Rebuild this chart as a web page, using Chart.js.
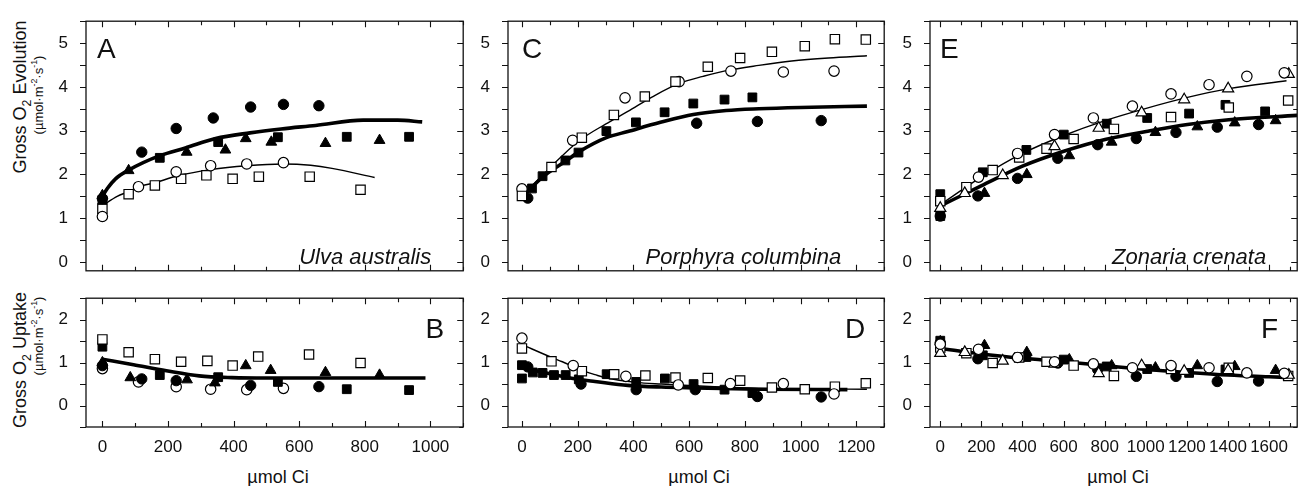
<!doctype html>
<html lang="en">
<head>
<meta charset="utf-8">
<title>Gross O2 evolution and uptake vs Ci</title>
<style>
  * { margin: 0; padding: 0; }
  body {
    width: 1305px;
    height: 486px;
    position: relative;
    overflow: hidden;
    background: #fff;
    color: #111;
    font-family: "Liberation Sans", Arial, Helvetica, sans-serif;
  }
  canvas { position: absolute; }
  .ytitle {
    position: absolute;
    transform: translate(-50%, -50%) rotate(-90deg);
    white-space: nowrap;
    font-size: 18px;
    line-height: 1;
  }
  .yunit { font-size: 13px; }
  .xtitle {
    position: absolute;
    transform: translate(-50%, -50%);
    white-space: nowrap;
    font-size: 18px;
  }
  sub, sup { font-size: 68%; line-height: 0; }
</style>
</head>
<body>

<div class="ytitle" style="left:20px; top:97px;">Gross O<sub>2</sub> Evolution</div>
<div class="ytitle yunit" style="left:38px; top:95px;">(&micro;mol&middot;m<sup>-2</sup>&middot;s<sup>-1</sup>)</div>
<div class="ytitle" style="left:20px; top:360px;">Gross O<sub>2</sub> Uptake</div>
<div class="ytitle yunit" style="left:38px; top:336px;">(&micro;mol&middot;m<sup>-2</sup>&middot;s<sup>-1</sup>)</div>

<div class="xtitle" style="left:278px; top:477px;">&micro;mol Ci</div>
<div class="xtitle" style="left:699px; top:477px;">&micro;mol Ci</div>
<div class="xtitle" style="left:1118px; top:477px;">&micro;mol Ci</div>

<script src="https://cdn.jsdelivr.net/npm/chart.js/dist/chart.umd.min.js"></script>
<script>

// ---------- data: [µmol Ci, rate] ----------

// A - Ulva australis, gross O2 evolution
const ulvaEvoFilledCircle   = [[0,1.45],[120,2.51],[225,3.05],[338,3.29],[452,3.54],[552,3.60],[660,3.57]];
const ulvaEvoFilledSquare   = [[0,1.42],[175,2.38],[353,2.74],[535,2.85],[745,2.86],[935,2.86]];
const ulvaEvoFilledTriangle = [[0,1.52],[80,2.09],[257,2.51],[375,2.56],[437,2.82],[515,2.74],[680,2.71],[845,2.78]];
const ulvaEvoOpenCircle     = [[0,1.04],[110,1.72],[225,2.06],[330,2.20],[440,2.24],[552,2.27]];
const ulvaEvoOpenSquare     = [[0,1.22],[80,1.55],[160,1.75],[240,1.90],[317,1.98],[397,1.90],[477,1.95],[632,1.95],[787,1.65]];
const ulvaEvoFitFilled      = [[0,1.5],[15,1.68],[40,1.9],[80,2.1],[175,2.43],[255,2.61],[345,2.82],[450,2.95],[545,3.04],[650,3.12],[795,3.24],[900,3.24],[975,3.2]];
const ulvaEvoFitOpen        = [[0,1.29],[45,1.5],[80,1.61],[110,1.72],[160,1.81],[225,1.96],[330,2.11],[440,2.2],[552,2.24],[635,2.21],[700,2.14],[830,1.93]];

// B - Ulva australis, gross O2 uptake
const ulvaUpOpenSquare      = [[0,1.54],[80,1.24],[160,1.08],[240,1.02],[320,1.04],[397,0.93],[475,1.14],[630,1.19],[787,0.99]];
const ulvaUpFilledSquare    = [[0,1.37],[175,0.71],[353,0.66],[535,0.55],[745,0.38],[935,0.36]];
const ulvaUpFilledTriangle  = [[0,1.0],[85,0.65],[258,0.6],[343,0.53],[437,0.93],[513,0.82],[680,0.77],[845,0.71]];
const ulvaUpFilledCircle    = [[0,0.93],[120,0.62],[225,0.58],[452,0.47],[660,0.44]];
const ulvaUpOpenCircle      = [[0,0.86],[110,0.55],[225,0.44],[330,0.38],[440,0.37],[552,0.40]];
const ulvaUpFit             = [[0,1.08],[95,0.95],[195,0.81],[295,0.69],[395,0.65],[500,0.64],[700,0.64],[985,0.64]];

// C - Porphyra columbina, gross O2 evolution
const porphEvoOpenSquare    = [[0,1.51],[106,2.17],[215,2.84],[330,3.36],[441,3.78],[551,4.12],[667,4.46],[783,4.66],[897,4.8],[1015,4.93],[1123,5.09],[1234,5.08]];
const porphEvoOpenCircle    = [[0,1.67],[182,2.78],[370,3.75],[564,4.12],[750,4.36],[938,4.34],[1120,4.36]];
const porphEvoFilledSquare  = [[36,1.68],[74,1.96],[156,2.32],[203,2.5],[303,2.99],[409,3.19],[512,3.42],[615,3.62],[727,3.71],[827,3.76]];
const porphEvoFilledCircle  = [[21,1.46],[627,3.17],[845,3.21],[1074,3.23]];
const porphEvoFitOpen       = [[0,1.5],[100,2.15],[203,2.76],[300,3.15],[380,3.44],[470,3.78],[568,4.09],[650,4.24],[733,4.37],[850,4.49],[968,4.59],[1100,4.66],[1238,4.71]];
const porphEvoFitFilled     = [[0,1.48],[74,1.94],[156,2.3],[203,2.51],[303,2.84],[380,2.98],[497,3.19],[615,3.37],[733,3.46],[850,3.5],[1000,3.53],[1238,3.56]];

// D - Porphyra columbina, gross O2 uptake
const porphUpOpenCircle     = [[0,1.57],[184,0.93],[373,0.68],[561,0.48],[748,0.51],[938,0.51],[1120,0.27]];
const porphUpOpenSquare     = [[0,1.33],[106,1.03],[215,0.8],[331,0.73],[443,0.7],[551,0.65],[667,0.64],[783,0.58],[897,0.42],[1015,0.38],[1123,0.44],[1234,0.52]];
const porphUpFilledSquare   = [[0,0.94],[0,0.63],[39,0.77],[74,0.76],[115,0.71],[157,0.71],[204,0.61],[304,0.73],[410,0.55],[513,0.63],[616,0.5],[727,0.37],[827,0.29]];
const porphUpFilledCircle   = [[21,0.9],[212,0.5],[410,0.37],[622,0.37],[845,0.21],[1074,0.2]];
const porphUpFitOpen        = [[0,1.42],[103,1.13],[145,1.02],[215,0.82],[262,0.72],[304,0.64],[410,0.54],[500,0.5],[615,0.46],[850,0.4],[1000,0.39],[1238,0.38]];
const porphUpFitFilled      = [[0,0.88],[115,0.72],[212,0.6],[262,0.56],[380,0.47],[500,0.43],[615,0.41],[850,0.38],[1168,0.37]];

// E - Zonaria crenata, gross O2 evolution
const zonEvoOpenCircle      = [[186,1.94],[376,2.48],[556,2.91],[745,3.29],[935,3.56],[1123,3.84],[1308,4.05],[1492,4.24],[1674,4.32]];
const zonEvoOpenTriangle    = [[0,1.23],[119,1.57],[304,1.98],[556,2.64],[771,3.06],[980,3.41],[1187,3.71],[1401,3.96],[1696,4.29]];
const zonEvoOpenSquare      = [[0,1.39],[127,1.71],[255,2.1],[384,2.39],[517,2.59],[649,2.81],[845,3.04],[1123,3.31],[1404,3.53],[1693,3.69]];
const zonEvoFilledSquare    = [[0,1.55],[0,1.05],[207,2.05],[419,2.56],[601,2.91],[810,3.16],[1007,3.29],[1211,3.39],[1388,3.59],[1581,3.44]];
const zonEvoFilledCircle    = [[0,1.05],[183,1.51],[376,1.91],[572,2.37],[766,2.68],[954,2.82],[1147,2.96],[1348,3.08],[1549,3.14]];
const zonEvoFilledTriangle  = [[215,1.57],[421,2.0],[628,2.43],[834,2.74],[1047,2.96],[1251,3.09],[1433,3.18],[1632,3.23]];
const zonEvoFitOpen         = [[0,1.31],[199,1.94],[400,2.48],[601,2.89],[802,3.23],[1002,3.51],[1203,3.76],[1404,3.96],[1685,4.14]];
const zonEvoFitFilled       = [[0,1.28],[199,1.74],[400,2.19],[601,2.53],[802,2.8],[1002,2.98],[1203,3.14],[1404,3.25],[1737,3.35]];

// F - Zonaria crenata, gross O2 uptake
const zonUpOpenCircle       = [[0,1.43],[186,1.31],[376,1.12],[556,1.02],[745,0.97],[935,0.88],[1123,0.93],[1308,0.88],[1492,0.76],[1674,0.75]];
const zonUpOpenTriangle     = [[0,1.22],[119,1.24],[304,1.04],[556,0.97],[771,0.75],[980,0.93],[1187,0.8],[1401,0.82],[1696,0.71]];
const zonUpOpenSquare       = [[0,1.35],[127,1.22],[255,0.99],[384,1.12],[517,1.02],[649,0.93],[845,0.69],[1123,0.85],[1404,0.88],[1693,0.69]];
const zonUpFilledSquare     = [[0,1.51],[207,1.17],[419,1.13],[601,1.07],[810,0.91],[1007,0.85],[1211,0.76],[1388,0.84]];
const zonUpFilledCircle     = [[0,1.46],[183,1.09],[572,0.99],[766,0.84],[954,0.68],[1147,0.68],[1348,0.56],[1549,0.57]];
const zonUpFilledTriangle   = [[0,1.49],[215,1.4],[421,1.24],[628,1.07],[834,0.93],[1047,0.88],[1251,0.93],[1433,0.91],[1632,0.82]];
const zonUpFit              = [[0,1.33],[200,1.2],[400,1.1],[600,1.02],[800,0.93],[1000,0.84],[1200,0.77],[1400,0.71],[1600,0.67],[1717,0.65]];

// tick labels
const evoTickLabels    = [0, 1, 2, 3, 4, 5];
const uptakeTickLabels = [0, 1, 2];
const ulvaCiLabels     = [0, 200, 400, 600, 800, 1000];
const porphCiLabels    = [0, 200, 400, 600, 800, 1000, 1200];
const zonCiLabels      = [0, 200, 400, 600, 800, 1000, 1200, 1400, 1600];

// ---------- styling ----------

Chart.defaults.font.family = '"Liberation Sans", Arial, Helvetica, sans-serif';
Chart.defaults.color = '#111';

const markerStyle = {
  filledCircle:   {pointStyle: 'circle',   radius: 5.2, fill: '#000'},
  openCircle:     {pointStyle: 'circle',   radius: 5.2, fill: '#fff'},
  filledSquare:   {pointStyle: 'rect',     radius: 6.2, fill: '#000'},
  openSquare:     {pointStyle: 'rect',     radius: 6.6, fill: '#fff'},
  filledTriangle: {pointStyle: 'triangle', radius: 6.2, fill: '#000'},
  openTriangle:   {pointStyle: 'triangle', radius: 6.4, fill: '#fff'},
};

const THICK = 3.6, THIN = 1.4;

// axis ranges are kept off whole multiples of the 100 step, otherwise
// Chart.js starts the ticks at the minimum (-50) instead of at 0
const panels = [
  {box: [86, 13, 469, 279], x: [-50, 1100], y: [-0.2, 5.5], xLabels: null, yLabels: evoTickLabels,
   letter: 'A', letterX: 11, species: 'Ulva australis', speciesRight: 32,
   marks: [[ulvaEvoFilledCircle, 'filledCircle'], [ulvaEvoFilledSquare, 'filledSquare'], [ulvaEvoFilledTriangle, 'filledTriangle'],
           [ulvaEvoOpenCircle, 'openCircle'], [ulvaEvoOpenSquare, 'openSquare']],
   fits: [[ulvaEvoFitFilled, THICK], [ulvaEvoFitOpen, THIN]]},
  {box: [86, 290, 469, 427], x: [-50, 1100], y: [-0.5, 2.5], xLabels: ulvaCiLabels, yLabels: uptakeTickLabels,
   letter: 'B',
   marks: [[ulvaUpOpenSquare, 'openSquare'], [ulvaUpFilledSquare, 'filledSquare'], [ulvaUpFilledTriangle, 'filledTriangle'],
           [ulvaUpFilledCircle, 'filledCircle'], [ulvaUpOpenCircle, 'openCircle']],
   fits: [[ulvaUpFit, THICK]]},
  {box: [508, 13, 890, 279], x: [-50, 1300], y: [-0.2, 5.5], xLabels: null, yLabels: evoTickLabels,
   letter: 'C', letterX: 14, species: 'Porphyra columbina', speciesRight: 43,
   marks: [[porphEvoOpenSquare, 'openSquare'], [porphEvoOpenCircle, 'openCircle'],
           [porphEvoFilledSquare, 'filledSquare'], [porphEvoFilledCircle, 'filledCircle']],
   fits: [[porphEvoFitOpen, THIN], [porphEvoFitFilled, THICK]]},
  {box: [508, 290, 890, 427], x: [-50, 1300], y: [-0.5, 2.5], xLabels: porphCiLabels, yLabels: uptakeTickLabels,
   letter: 'D',
   marks: [[porphUpOpenCircle, 'openCircle'], [porphUpOpenSquare, 'openSquare'],
           [porphUpFilledSquare, 'filledSquare'], [porphUpFilledCircle, 'filledCircle']],
   fits: [[porphUpFitOpen, THIN], [porphUpFitFilled, THICK]]},
  {box: [930, 13, 1303, 279], x: [-50, 1737], y: [-0.2, 5.5], xLabels: null, yLabels: evoTickLabels,
   letter: 'E', letterX: 10, species: 'Zonaria crenata', speciesRight: 31,
   marks: [[zonEvoOpenCircle, 'openCircle'], [zonEvoOpenTriangle, 'openTriangle'], [zonEvoOpenSquare, 'openSquare'],
           [zonEvoFilledCircle, 'filledCircle'], [zonEvoFilledSquare, 'filledSquare'], [zonEvoFilledTriangle, 'filledTriangle']],
   fits: [[zonEvoFitOpen, THIN], [zonEvoFitFilled, THICK]]},
  {box: [930, 290, 1303, 427], x: [-50, 1737], y: [-0.5, 2.5], xLabels: zonCiLabels, yLabels: uptakeTickLabels,
   letter: 'F',
   marks: [[zonUpOpenCircle, 'openCircle'], [zonUpOpenTriangle, 'openTriangle'], [zonUpOpenSquare, 'openSquare'],
           [zonUpFilledCircle, 'filledCircle'], [zonUpFilledSquare, 'filledSquare'], [zonUpFilledTriangle, 'filledTriangle']],
   fits: [[zonUpFit, THICK]]},
];

// frame, inward/outward tick marks, panel letter and species name
const framePlugin = {
  id: 'frame',
  afterDatasetsDraw(chart, args, opts) {
    const {ctx, chartArea: {left, top, right, bottom}, scales: {x, y}} = chart;
    ctx.save();
    ctx.strokeStyle = '#111';
    ctx.lineWidth = 1.3;
    ctx.strokeRect(left, top, right - left, bottom - top);

    ctx.beginPath();
    ctx.lineWidth = 1.1;
    x.ticks.forEach(t => {
      const px = Math.round(x.getPixelForValue(t.value)) + 0.5;
      const len = t.value % 200 === 0 ? 6 : 4;
      ctx.moveTo(px, bottom); ctx.lineTo(px, bottom - len);
      ctx.moveTo(px, top);    ctx.lineTo(px, top + len);
    });
    y.ticks.forEach(t => {
      const py = Math.round(y.getPixelForValue(t.value)) + 0.5;
      const major = Math.abs(t.value - Math.round(t.value)) < 1e-6;
      const len = major ? 6 : 4;
      ctx.moveTo(left - 6, py); ctx.lineTo(left, py);
      ctx.moveTo(right, py);    ctx.lineTo(right - len, py);
    });
    ctx.stroke();

    ctx.fillStyle = '#111';
    ctx.textBaseline = 'alphabetic';
    ctx.font = '28px "Liberation Sans", Arial, sans-serif';
    if (opts.species) {
      ctx.textAlign = 'left';
      ctx.fillText(opts.letter, left + opts.letterX, top + 37);
      ctx.font = 'italic 22px "Liberation Sans", Arial, sans-serif';
      ctx.textAlign = 'right';
      ctx.fillText(opts.species, right - opts.speciesRight, 263);
    } else {
      ctx.textAlign = 'right';
      ctx.fillText(opts.letter, right - 19, top + 40);
    }
    ctx.restore();
  }
};

const padL = 50, padT = 12, padR = 2;

panels.forEach(p => {
  const [l, t, r, b] = p.box;
  const axisH = p.xLabels ? 34 : 0;
  const padB = p.xLabels ? 0 : 12;

  const canvas = document.createElement('canvas');
  canvas.width = (r - l) + padL + padR;
  canvas.height = (b - t) + padT + axisH + padB;
  canvas.style.left = (l - padL) + 'px';
  canvas.style.top = (t - padT) + 'px';
  document.body.appendChild(canvas);

  const datasets = [];
  p.marks.forEach(([pts, kind]) => {
    const m = markerStyle[kind];
    datasets.push({
      data: pts.map(([cx, v]) => ({x: cx, y: v})),
      pointStyle: m.pointStyle,
      pointRadius: m.radius,
      pointBackgroundColor: m.fill,
      pointBorderColor: '#000',
      pointBorderWidth: m.fill === '#fff' ? 1.2 : 1,
      showLine: false,
      order: 1,
    });
  });
  p.fits.forEach(([pts, w]) => {
    datasets.push({
      data: pts.map(([cx, v]) => ({x: cx, y: v})),
      showLine: true,
      borderColor: '#000',
      borderWidth: w,
      pointRadius: 0,
      cubicInterpolationMode: 'monotone',
      order: 5,
    });
  });

  new Chart(canvas, {
    type: 'scatter',
    data: {datasets},
    options: {
      responsive: false,
      devicePixelRatio: 1,
      animation: false,
      events: [],
      layout: {padding: {left: 0, top: padT, right: padR, bottom: padB}},
      plugins: {
        legend: {display: false},
        tooltip: {enabled: false},
        frame: {letter: p.letter, letterX: p.letterX, species: p.species, speciesRight: p.speciesRight},
      },
      scales: {
        x: {
          type: 'linear',
          position: 'bottom',
          min: p.x[0],
          max: p.x[1],
          grid: {display: false},
          border: {display: false},
          ticks: {
            display: !!p.xLabels,
            stepSize: 100,
            maxTicksLimit: 100,
            includeBounds: false,
            autoSkip: false,
            maxRotation: 0,
            padding: 2,
            font: {size: 17},
            color: '#111',
            callback: v => (p.xLabels && p.xLabels.includes(v)) ? String(v) : '',
          },
          afterFit: s => { s.height = axisH; },
        },
        y: {
          type: 'linear',
          position: 'left',
          min: p.y[0],
          max: p.y[1],
          grid: {display: false},
          border: {display: false},
          ticks: {
            stepSize: 0.5,
            maxTicksLimit: 100,
            includeBounds: false,
            autoSkip: false,
            padding: 10,
            font: {size: 17},
            color: '#111',
            callback: v => p.yLabels.includes(v) ? String(v) : '',
          },
          afterFit: s => { s.width = padL; },
        },
      },
    },
    plugins: [framePlugin],
  });
});
</script>
</body>
</html>
